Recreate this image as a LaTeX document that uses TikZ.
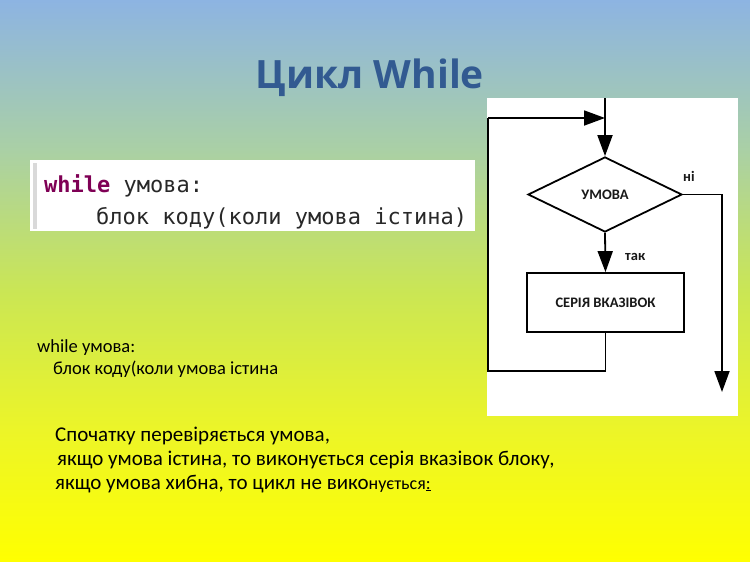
\documentclass[tikz,border=0pt]{standalone}
\usepackage{fontspec}
\setmainfont{Carlito}
\newfontfamily\titlefont{Open Sans}
\newfontfamily\codefont{DejaVu Sans Mono}
\usetikzlibrary{shapes.geometric,arrows.meta}
\definecolor{bgA}{RGB}{141,180,226}
\definecolor{bgB}{RGB}{170,208,165}
\definecolor{bgC}{RGB}{202,230,85}
\definecolor{bgD}{RGB}{236,245,40}
\definecolor{bgE}{RGB}{255,255,0}
\definecolor{titleblue}{RGB}{50,90,145}
\definecolor{kw}{RGB}{127,0,85}
\definecolor{codetxt}{RGB}{40,40,40}
\tikzset{
  flow/.style={line width=1.8pt, draw=black},
  arr/.style={flow, -{Triangle[length=21pt,width=15pt]}},
  fctext/.style={font=\fontsize{14.5}{16}\selectfont\bfseries, text=black!90, inner sep=0pt},
  plain/.style={inner sep=0pt, anchor=base west, text=black},
}
\begin{document}
\begin{tikzpicture}[x=1pt,y=-1pt]
\useasboundingbox (0,0) rectangle (750,562);
% background
\shade[top color=bgA, bottom color=bgB] (0,0) rectangle (750,150.5);
\shade[top color=bgB, bottom color=bgC] (0,150) rectangle (750,290.5);
\shade[top color=bgC, bottom color=bgD] (0,290) rectangle (750,430.5);
\shade[top color=bgD, bottom color=bgE] (0,430) rectangle (750,562);
% title
\node[anchor=base, inner sep=0pt, text=titleblue, font=\titlefont\fontsize{39}{44}\selectfont\bfseries] (title) at (370,88) {Цикл While};
% code box
\fill[white] (30,160) rectangle (475,231);
\fill[black!15] (33,163) rectangle (37,229);
\node[plain, text=codetxt, font=\codefont\fontsize{22}{26}\selectfont] (code1) at (44,192) {\textcolor{kw}{\bfseries while} умова:};
\node[plain, text=codetxt, font=\codefont\fontsize{22}{26}\selectfont] (code2) at (96,224) {блок коду(коли умова істина)};
% flowchart panel
\fill[white] (487,98) rectangle (738,416);
\coordinate (top) at (605,98);
\coordinate (join) at (605,118);
\coordinate (tl) at (488,118);
\coordinate (bl) at (488,371);
\coordinate (exit) at (722,392);
\node[diamond, flow, aspect=2, inner sep=0pt, minimum width=154pt, minimum height=75pt, fctext] (cond) at (605,194.5) {УМОВА};
\node[rectangle, flow, inner sep=0pt, minimum width=157pt, minimum height=59pt, fctext] (box) at (605.5,302.5) {СЕРІЯ ВКАЗІВОК};
\draw[arr] (top) -- (cond.north);
\draw[arr] (cond.south) -- (box.north);
\draw[arr] (cond.east) -| (exit);
\draw[flow] (box.south) |- (bl) -- (tl);
\draw[arr] (tl) -- (join);
\node[fctext, anchor=base west] (ni) at (683,181) {ні};
\node[fctext, anchor=base west] (tak) at (625,260) {так};
% left text
\node[plain, font=\fontsize{18.5}{22}\selectfont] (l1) at (37,352) {while умова:};
\node[plain, font=\fontsize{18.5}{22}\selectfont] (l2) at (53,374) {блок коду(коли умова істина};
% bottom text
\node[plain, font=\fontsize{21}{25}\selectfont] (b1) at (55,441) {Спочатку перевіряється умова,};
\node[plain, font=\fontsize{21}{25}\selectfont] (b2) at (57,465) {якщо умова істина, то виконується серія вказівок блоку,};
\node[plain, font=\fontsize{21}{25}\selectfont] (b3) at (55,489) {якщо умова хибна, то цикл не вико{\fontsize{18}{21}\selectfont нується\underline{:}}};
\end{tikzpicture}
\end{document}
